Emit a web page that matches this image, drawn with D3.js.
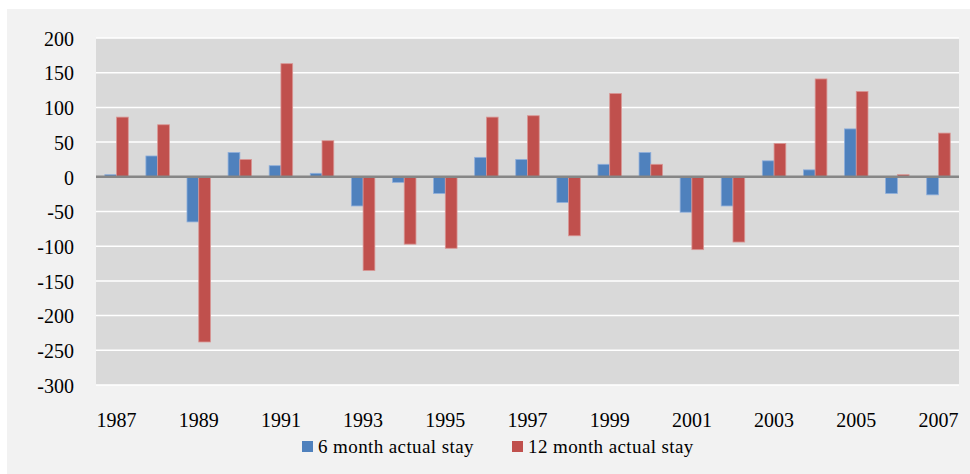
<!DOCTYPE html>
<html>
<head>
<meta charset="utf-8">
<script src="https://cdn.jsdelivr.net/npm/d3@7/dist/d3.min.js"></script>
<style>
  body { margin: 0; background: #ffffff; }
  svg text { font-family: "Liberation Serif", "Times New Roman", "DejaVu Serif", serif; fill: #000; }
</style>
</head>
<body>
<div id="chart"></div>
<script>
// data
var years = d3.range(1987, 2008).map(String);
var tickYears = ["1987", "1989", "1991", "1993", "1995", "1997", "1999", "2001", "2003", "2005", "2007"];
var yTicks = [200, 150, 100, 50, 0, -50, -100, -150, -200, -250, -300];
var seriesNames = ["6 month actual stay", "12 month actual stay"];
var sixMonth = [3, 30, -65, 35, 16, 5, -42, -8, -24, 28, 25, -37, 18, 35, -51, -42, 23, 10, 69, -24, -26];
var twelveMonth = [86, 75, -238, 25, 163, 52, -135, -97, -103, 86, 88, -85, 120, 18, -105, -94, 48, 141, 123, 3, 63];
var colors = ["#4f81bd", "#c0504d"];
var strokes = ["#8eaedb", "#d99694"];

var width = 970, height = 474;
var margin = { top: 38, right: 11, bottom: 89, left: 96 };

var svg = d3.select("#chart").append("svg")
    .attr("width", width)
    .attr("height", height);

// outer chart panel
svg.append("rect")
    .attr("x", 7).attr("y", 9)
    .attr("width", width - 7).attr("height", height - 9)
    .attr("fill", "#f2f2f2");

var x = d3.scaleBand()
    .domain(years)
    .range([margin.left, width - margin.right]);

var x1 = d3.scaleBand()
    .domain([0, 1])
    .range([0, x.bandwidth()])
    .paddingInner(0)
    .paddingOuter(0.75);

var y = d3.scaleLinear()
    .domain([-300, 200])
    .range([height - margin.bottom, margin.top]);

// plot area
svg.append("rect")
    .attr("x", margin.left).attr("y", margin.top)
    .attr("width", width - margin.left - margin.right)
    .attr("height", y(-300) - y(200))
    .attr("fill", "#d9d9d9");

// gridlines
svg.append("g")
    .selectAll("line")
    .data(yTicks)
    .join("line")
    .attr("x1", margin.left)
    .attr("x2", width - margin.right)
    .attr("y1", d => y(d))
    .attr("y2", d => y(d))
    .attr("stroke", "#ffffff")
    .attr("stroke-width", 1.5);

// y axis labels
var yAxis = svg.append("g")
    .attr("transform", "translate(" + 74 + ",0)")
    .call(d3.axisLeft(y).tickValues(yTicks).tickFormat(d => String(d)).tickSize(0).tickPadding(0));
yAxis.attr("font-family", null);
yAxis.select(".domain").remove();
yAxis.selectAll("text")
    .attr("font-size", 20)
    .attr("fill", "#000")
    .attr("dy", "0.36em");

// bars
var rows = years.map(function (yr, i) { return { year: yr, values: [sixMonth[i], twelveMonth[i]] }; });
var groups = svg.append("g")
    .selectAll("g")
    .data(rows)
    .join("g")
    .attr("transform", d => "translate(" + x(d.year) + ",0)");

groups.selectAll("rect")
    .data(d => d.values.map((v, k) => ({ k: k, v: v })))
    .join("rect")
    .attr("x", d => x1(d.k))
    .attr("width", x1.bandwidth())
    .attr("y", d => y(Math.max(0, d.v)))
    .attr("height", d => Math.abs(y(d.v) - y(0)))
    .attr("fill", d => colors[d.k])
    .attr("stroke", d => strokes[d.k])
    .attr("stroke-width", 0.8);

// zero line
svg.append("line")
    .attr("x1", margin.left)
    .attr("x2", width - margin.right)
    .attr("y1", y(0))
    .attr("y2", y(0))
    .attr("stroke", "#868686")
    .attr("stroke-width", 2.5);

// x axis labels
var xAxis = svg.append("g")
    .attr("transform", "translate(0," + 427 + ")")
    .call(d3.axisBottom(x).tickValues(tickYears).tickSize(0).tickPadding(0));
xAxis.attr("font-family", null);
xAxis.select(".domain").remove();
xAxis.selectAll("text")
    .attr("font-size", 20)
    .attr("fill", "#000")
    .attr("dy", 0);

// legend
var legendX = [302, 512];
var legend = svg.append("g")
    .selectAll("g")
    .data(seriesNames)
    .join("g")
    .attr("transform", (d, i) => "translate(" + legendX[i] + ",441)");
legend.append("rect")
    .attr("width", 11).attr("height", 11)
    .attr("fill", (d, i) => colors[i]);
legend.append("text")
    .attr("x", 16)
    .attr("y", 12)
    .attr("font-size", 19)
    .attr("letter-spacing", 0.4)
    .text(d => d);
</script>
</body>
</html>
